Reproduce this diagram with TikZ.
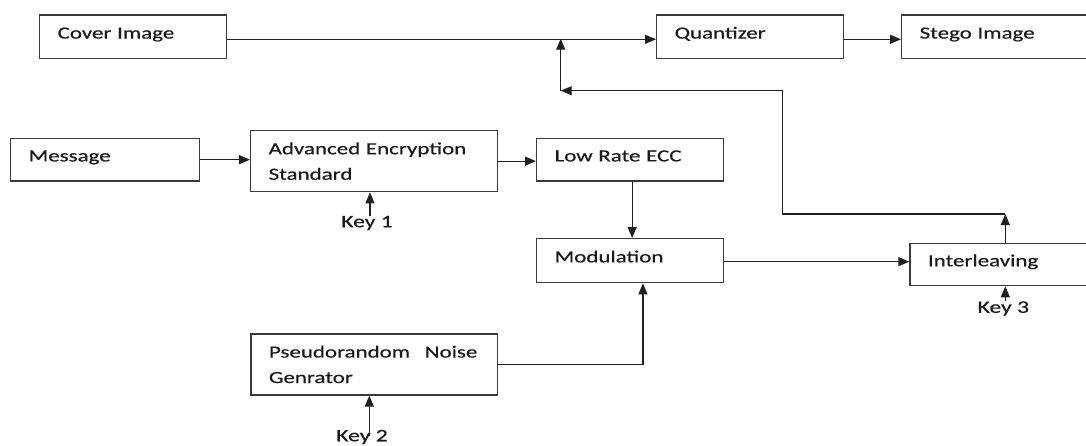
\documentclass[tikz,border=0pt]{standalone}
\usepackage{fontspec}
\setmainfont{Carlito}[FakeStretch=1.35,FakeBold=0.5]
\usetikzlibrary{arrows.meta}
\definecolor{boxgray}{HTML}{3A3A3A}
\definecolor{linegray}{HTML}{202020}
\definecolor{inkblack}{HTML}{1A1A1A}
\begin{document}
\begin{tikzpicture}[x=1pt,y=-1pt,
  box/.style={draw=boxgray, line width=1.3pt, rectangle, anchor=north west,
    inner xsep=18pt, inner ysep=0pt, align=left, text=inkblack,
    font=\fontsize{17}{25.5}\selectfont},
  oneline/.style={text height=12pt, text depth=8.5pt},
  keylabel/.style={font=\fontsize{17.5}{20}\selectfont, text=inkblack, inner sep=1pt},
  link/.style={draw=linegray, line width=1.3pt, -{Triangle[length=11pt,width=9pt]}}]
\useasboundingbox (0,0) rectangle (1086,445);

% blocks
\node[box, oneline, minimum width=187pt, minimum height=43.7pt, text width=151pt] (cover) at (39,14.3) {Cover Image};
\node[box, oneline, minimum width=187pt, minimum height=43.7pt, text width=151pt] (quant) at (656,14.3) {Quantizer};
\node[box, oneline, minimum width=184.5pt, minimum height=43.7pt, text width=148.5pt] (stego) at (901,14.3) {Stego Image};
\node[box, oneline, minimum width=188.7pt, minimum height=42.6pt, text width=152.7pt] (msg) at (10,137.7) {Message};
\node[box, minimum width=247pt, minimum height=61pt, text width=211pt] (aes) at (250,130) {Advanced Encryption\\Standard};
\node[box, oneline, minimum width=187pt, minimum height=42.6pt, text width=151pt] (ecc) at (536,137.7) {Low Rate ECC};
\node[box, oneline, minimum width=187pt, minimum height=44pt, text width=151pt] (mod) at (536,238) {Modulation};
\node[box, oneline, minimum width=176.2pt, minimum height=42.3pt, text width=140.2pt] (inter) at (909.3,242.7) {Interleaving};
\node[box, minimum width=246.7pt, minimum height=61pt, text width=210.7pt] (pn) at (250.3,333.3) {Pseudorandom\hspace{9pt} Noise\\Genrator};

% key inputs
\node[keylabel] (key1) at (367,223) {Key 1};
\node[keylabel] (key2) at (362,437) {Key 2};
\node[keylabel] (key3) at (1003.3,308.5) {Key 3};

% junction points of the feedback path
\coordinate (tA) at (1005.3,214);
\coordinate (bend) at (782.7,90.7);
\coordinate (tB) at (560.7,90.7);
\coordinate (tC) at (560.7,38.7);

% main chain
\draw[link] ([yshift=-2.5pt]cover.east) -- ([yshift=-2.5pt]quant.west);
\draw[link] ([yshift=-2.5pt]quant.east) -- ([yshift=-2.5pt]stego.west);
\draw[link] (msg.east) -- (msg.east -| aes.west);
\draw[link] (aes.east) -- (aes.east -| ecc.west);
\draw[link] ([xshift=2pt]ecc.south) -- ([xshift=2pt]ecc.south |- mod.north);
\draw[link] ([yshift=-1pt]mod.east) -- ([yshift=-1pt]mod.east -| inter.west);
\draw[link] (pn.east) -| ([xshift=12.8pt]mod.south);

% feedback from interleaving to the cover line
\draw[link] (tA |- inter.north) -- (tA);
\draw[link] (tA) -| (bend) -- (tB);
\draw[link] (tB) -- (tC);

% keys
\draw[link] ([xshift=3pt,yshift=-1pt]key1.north) -- ([xshift=3pt]key1.north |- aes.south);
\draw[link] ([xshift=7.3pt,yshift=-7pt]key2.north) -- ([xshift=7.3pt]key2.north |- pn.south);
\draw[link] ([xshift=2pt,yshift=-1pt]key3.north) -- ([xshift=2pt]key3.north |- inter.south);
\end{tikzpicture}
\end{document}
